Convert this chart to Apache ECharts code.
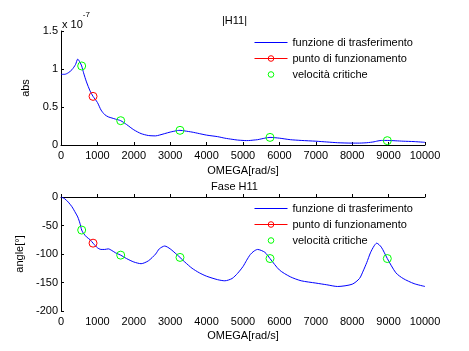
<!DOCTYPE html>
<html>
<head>
<meta charset="utf-8">
<script src="https://cdn.jsdelivr.net/npm/echarts@6/dist/echarts.min.js"></script>
<style>
  html, body { margin: 0; padding: 0; background: #fff; }
  #chart { width: 469px; height: 351px; }
</style>
</head>
<body>
<div id="chart"></div>
<script>
// pulsazione [rad/s]
var omega = [0, 100, 200, 300, 400, 460, 520, 568, 620, 700, 800, 880, 1000, 1100, 1200, 1300, 1400, 1500, 1640, 1800,
  2000, 2200, 2400, 2600, 2700, 2850, 3000, 3200, 3269, 3400, 3600, 3800, 4000, 4300, 4500, 4700, 4850, 5000, 5100, 5200,
  5300, 5400, 5600, 5742, 6000, 6300, 6600, 7000, 7300, 7600, 8000, 8200, 8300, 8400, 8500, 8600, 8672, 8800, 8965, 9200,
  9400, 9700, 10000];
// |H11| in unita di 1e-7
var modulo = [0.93, 0.93, 0.95, 0.99, 1.06, 1.13, 1.09, 1.04, 0.95, 0.83, 0.71, 0.64, 0.56, 0.46, 0.40, 0.37, 0.355, 0.34, 0.32, 0.27,
  0.20, 0.15, 0.125, 0.12, 0.13, 0.15, 0.17, 0.19, 0.193, 0.185, 0.17, 0.15, 0.13, 0.11, 0.09, 0.075, 0.065, 0.06, 0.058, 0.06,
  0.065, 0.07, 0.09, 0.10, 0.09, 0.07, 0.06, 0.05, 0.04, 0.03, 0.025, 0.025, 0.027, 0.03, 0.035, 0.042, 0.05, 0.06, 0.06, 0.055,
  0.05, 0.045, 0.035];
// fase H11 [gradi]
var fase = [0, -3, -9, -17, -28, -35, -46, -58, -64, -70, -75, -81, -89, -92, -92, -91, -94, -98, -102, -108,
  -114, -117, -112, -100, -91, -86, -91, -102, -106, -114, -125, -133, -139, -145, -147, -143, -134, -122, -111, -101,
  -95, -92, -97, -108, -128, -140, -147, -151, -154, -157, -153, -143, -130, -115, -98, -86, -81, -88, -108, -133,
  -143, -152, -157];

// punto di funzionamento
var omegaF = [880];
var moduloF = [0.64];
var faseF = [-81];

// velocita critiche
var omegaC = [568, 1640, 3269, 5742, 8965];
var moduloC = [1.04, 0.32, 0.193, 0.10, 0.057];
var faseC = [-58, -102, -106, -108, -108];

function pairs(xs, ys) {
  return xs.map(function (x, i) { return [x, ys[i]]; });
}

var font = 'Liberation Sans, Arial, sans-serif';
var nomi = ['funzione di trasferimento', 'punto di funzionamento', 'velocità critiche'];
var vuoto = 'rgba(0,0,0,0)';

function xAx(idx) {
  return {
    gridIndex: idx, type: 'value', min: 0, max: 10000, interval: 1000,
    name: 'OMEGA[rad/s]', nameLocation: 'middle', nameGap: idx === 0 ? 20 : 19,
    nameTextStyle: { fontFamily: font, fontSize: 11, color: '#000' },
    axisLine: { lineStyle: { color: '#000', width: 1 } },
    axisTick: { inside: true, length: 3, lineStyle: { color: '#000' } },
    axisLabel: { fontFamily: font, fontSize: 11, color: '#000', margin: 5,
      formatter: function (v) { return String(v); } },
    splitLine: { show: false }
  };
}

function yAx(idx, min, max, step, nome, gap) {
  return {
    gridIndex: idx, type: 'value', min: min, max: max, interval: step,
    name: nome, nameLocation: 'middle', nameGap: gap,
    nameTextStyle: { fontFamily: font, fontSize: 11, color: '#000' },
    axisLine: { show: true, lineStyle: { color: '#000' } },
    axisTick: { show: true, inside: true, length: 3, lineStyle: { color: '#000' } },
    axisLabel: { fontFamily: font, fontSize: 11, color: '#000', margin: 3 },
    splitLine: { show: false }
  };
}

function serie(g, ys, yF, yC) {
  return [
    { name: nomi[0], type: 'line', xAxisIndex: g, yAxisIndex: g, data: pairs(omega, ys),
      smooth: 0.25, symbol: 'none', color: '#0000ff', lineStyle: { width: 1, color: '#0000ff' } },
    { name: nomi[1], type: 'line', xAxisIndex: g, yAxisIndex: g, data: pairs(omegaF, yF),
      symbol: 'circle', symbolSize: 8, color: '#ff0000', lineStyle: { width: 1, color: '#ff0000' },
      itemStyle: { color: vuoto, borderColor: '#ff0000', borderWidth: 1 } },
    { name: nomi[2], type: 'line', xAxisIndex: g, yAxisIndex: g, data: pairs(omegaC, yC),
      symbol: 'circle', symbolSize: 8, color: '#00ff00', lineStyle: { width: 0, opacity: 0 },
      itemStyle: { color: vuoto, borderColor: '#00ff00', borderWidth: 1 } }
  ];
}

var chart = echarts.init(document.getElementById('chart'));
chart.setOption({
  animation: false,
  backgroundColor: '#fff',
  title: [
    { text: '|H11|', left: 'center', top: 10, textStyle: { fontFamily: font, fontSize: 11, fontWeight: 'normal', color: '#000' } },
    { text: 'Fase H11', left: 'center', top: 176, textStyle: { fontFamily: font, fontSize: 11, fontWeight: 'normal', color: '#000' } }
  ],
  graphic: [{
    type: 'text', left: 62, top: 11,
    style: {
      text: '{a|x 10}{b|-7}',
      rich: {
        a: { fontFamily: font, fontSize: 11, fill: '#000', padding: [8, 0, 0, 0] },
        b: { fontFamily: font, fontSize: 8, fill: '#000', verticalAlign: 'top' }
      }
    }
  }],
  legend: [0, 1].map(function (g) {
    return {
      orient: 'vertical', left: 254, top: g === 0 ? 37 : 203, padding: 0,
      itemWidth: 33, itemHeight: 7, itemGap: 5,
      lineStyle: { width: 1 },
      data: [
        { name: nomi[0], itemStyle: { opacity: 0 } },
        { name: nomi[1], itemStyle: { color: vuoto, borderColor: '#ff0000', borderWidth: 1 } },
        { name: nomi[2], itemStyle: { color: vuoto, borderColor: '#00ff00', borderWidth: 1 } }
      ],
      textStyle: { fontFamily: font, fontSize: 11, color: '#000' }
    };
  }),
  grid: [
    { left: 61, top: 31, width: 364, height: 114 },
    { left: 61, top: 197, width: 364, height: 114 }
  ],
  xAxis: [xAx(0), xAx(1)],
  yAxis: [
    yAx(0, 0, 1.5, 0.5, 'abs', 26),
    yAx(1, -200, 0, 50, 'angle[°]', 29)
  ],
  series: serie(0, modulo, moduloF, moduloC).concat(serie(1, fase, faseF, faseC))
});
</script>
</body>
</html>
